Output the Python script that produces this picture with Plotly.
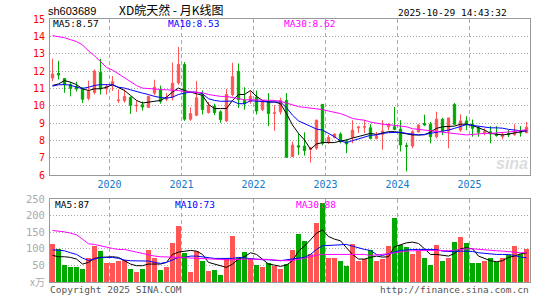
import plotly.graph_objects as go
import pandas as pd

# ---------------- data ----------------
months = pd.period_range("2019-03", "2025-10", freq="M").strftime("%Y-%m").tolist()

open_ = [11.60, 11.86, 11.57, 11.22, 11.12, 11.01, 10.43, 10.77, 11.92, 10.97,
         11.14, 10.30, 10.29, 10.48, 10.00, 10.06, 9.91, 10.73, 10.92, 10.38,
         10.46, 11.32, 12.38, 9.23, 9.46, 10.63, 9.61, 9.97, 9.65, 9.13,
         10.65, 11.98, 10.31, 10.25, 10.50, 9.78, 10.27, 9.57, 9.65, 10.31,
         7.08, 7.70, 7.68, 7.48, 7.56, 10.08, 7.88, 8.18, 8.37, 7.93,
         8.18, 8.73, 8.77, 8.73, 8.12, 8.35, 8.79, 8.79, 8.66, 7.70,
         7.68, 8.50, 8.98, 8.94, 8.22, 9.23, 8.54, 10.08, 8.60, 9.13,
         8.94, 8.73, 8.47, 8.50, 8.37, 8.22, 8.40, 8.33, 8.50, 8.45]
high = [12.71, 12.59, 11.60, 11.36, 11.39, 11.07, 11.45, 12.10, 12.71, 11.26,
        11.71, 10.95, 10.95, 10.54, 10.31, 10.25, 10.60, 11.50, 11.16, 10.74,
        12.50, 13.39, 12.52, 9.90, 11.43, 10.88, 10.22, 10.12, 9.74, 10.97,
        12.48, 12.44, 11.07, 10.84, 10.88, 10.31, 10.73, 10.03, 10.46, 10.73,
        7.93, 8.41, 8.47, 7.62, 9.20, 10.08, 8.31, 8.41, 8.47, 8.07,
        9.17, 8.85, 9.17, 8.94, 8.50, 9.17, 9.00, 9.93, 9.17, 7.88,
        8.60, 8.94, 9.49, 9.07, 9.65, 9.30, 9.30, 10.16, 9.51, 9.40,
        9.21, 8.83, 8.70, 8.83, 8.83, 8.45, 8.60, 8.94, 8.83, 9.07]
low = [11.41, 11.52, 10.75, 10.54, 10.82, 10.16, 10.31, 10.65, 10.65, 10.65,
       10.85, 10.16, 10.18, 9.53, 9.65, 9.72, 9.88, 10.60, 10.12, 10.27,
       10.31, 11.21, 9.13, 9.13, 9.40, 9.50, 9.55, 9.46, 9.02, 9.07,
       10.54, 9.88, 9.78, 10.12, 9.50, 9.70, 8.83, 8.56, 9.50, 7.00,
       7.04, 7.17, 7.13, 6.73, 7.46, 7.72, 7.80, 8.12, 7.84, 7.27,
       7.84, 8.43, 8.43, 8.06, 8.06, 7.46, 8.60, 8.60, 7.37, 6.22,
       7.55, 8.45, 8.83, 7.84, 8.12, 8.31, 7.55, 8.89, 8.50, 8.60,
       8.22, 8.22, 8.30, 7.84, 8.22, 8.07, 8.20, 8.28, 8.22, 8.41]
close = [11.83, 11.77, 11.22, 11.01, 10.96, 10.38, 10.84, 12.00, 10.97, 11.12,
         11.39, 10.33, 10.54, 10.03, 10.03, 9.93, 10.54, 11.07, 10.25, 10.48,
         11.30, 12.38, 9.23, 9.55, 10.46, 9.78, 10.03, 9.61, 9.21, 10.65,
         11.68, 10.35, 10.12, 10.54, 9.70, 10.23, 9.55, 9.59, 10.31, 7.04,
         7.74, 7.62, 7.42, 7.56, 9.17, 7.84, 8.18, 8.37, 7.93, 7.80,
         8.60, 8.77, 8.79, 8.12, 8.26, 8.54, 8.92, 8.64, 7.74, 7.66,
         8.50, 8.89, 8.89, 8.22, 9.23, 8.54, 9.30, 8.94, 9.13, 8.89,
         8.70, 8.47, 8.50, 8.37, 8.28, 8.33, 8.33, 8.45, 8.45, 8.77]

ma5 = [11.17, 11.26, 11.45, 11.36, 11.22, 10.98, 10.88, 10.98, 10.98, 11.07,
       11.22, 11.07, 10.88, 10.60, 10.31, 10.16, 10.22, 10.26, 10.31, 10.50,
       10.79, 11.02, 10.88, 10.79, 10.69, 10.60, 10.08, 9.84, 9.84, 9.84,
       10.31, 10.65, 10.65, 10.88, 10.54, 10.31, 10.22, 10.22, 10.12, 9.55,
       8.89, 8.41, 8.03, 7.50, 7.80, 7.88, 7.88, 7.88, 7.97, 8.03,
       8.14, 8.22, 8.32, 8.41, 8.35, 8.45, 8.51, 8.51, 8.45, 8.37,
       8.32, 8.32, 8.33, 8.49, 8.70, 8.79, 8.79, 8.83, 8.94, 8.94,
       8.87, 8.75, 8.60, 8.41, 8.35, 8.32, 8.37, 8.45, 8.51, 8.57]
ma10 = [11.13, 11.21, 11.22, 11.19, 11.07, 11.00, 11.07, 11.17, 11.22, 11.22,
        11.21, 11.07, 11.02, 10.92, 10.81, 10.73, 10.65, 10.54, 10.48, 10.44,
        10.50, 10.65, 10.73, 10.79, 10.79, 10.69, 10.41, 10.31, 10.26, 10.26,
        10.27, 10.12, 10.12, 10.29, 10.26, 10.26, 10.22, 10.22, 10.22, 9.89,
        9.46, 9.13, 8.98, 8.79, 8.66, 8.60, 8.41, 8.22, 7.97, 7.88,
        7.99, 8.09, 8.18, 8.30, 8.32, 8.41, 8.45, 8.47, 8.47, 8.41,
        8.35, 8.32, 8.35, 8.41, 8.47, 8.52, 8.60, 8.70, 8.83, 8.92,
        8.87, 8.83, 8.75, 8.73, 8.73, 8.71, 8.64, 8.60, 8.56, 8.53]
ma30 = [14.04, 14.00, 13.92, 13.81, 13.70, 13.51, 13.16, 12.88, 12.56, 12.21,
        12.06, 11.83, 11.64, 11.36, 11.17, 11.02, 10.98, 10.96, 10.94, 10.92,
        10.92, 10.88, 10.82, 10.81, 10.79, 10.75, 10.65, 10.60, 10.54, 10.54,
        10.46, 10.41, 10.35, 10.35, 10.35, 10.31, 10.31, 10.31, 10.26, 10.16,
        10.03, 9.95, 9.91, 9.87, 9.84, 9.78, 9.70, 9.63, 9.55, 9.42,
        9.27, 9.21, 9.17, 9.06, 8.98, 8.94, 8.91, 8.87, 8.83, 8.79,
        8.68, 8.64, 8.60, 8.54, 8.51, 8.45, 8.41, 8.41, 8.33, 8.32,
        8.35, 8.39, 8.41, 8.41, 8.43, 8.45, 8.49, 8.52, 8.58, 8.62]

volume = [115, 100, 50, 44, 44, 38, 73, 110, 94, 56,
          56, 62, 65, 38, 29, 38, 97, 71, 35, 44,
          118, 168, 88, 29, 94, 62, 32, 35, 21, 73,
          138, 73, 91, 71, 50, 44, 56, 47, 38, 53,
          97, 144, 123, 85, 179, 238, 73, 73, 62, 47,
          115, 62, 68, 97, 62, 68, 109, 194, 111, 106,
          83, 94, 73, 50, 112, 62, 71, 121, 135, 118,
          56, 56, 62, 71, 59, 71, 82, 109, 85, 100]
vol_ma5 = [80, 76, 76, 74, 69, 54, 59, 71, 74, 76,
           76, 74, 64, 54, 49, 49, 54, 54, 54, 59,
           83, 90, 93, 95, 93, 83, 59, 54, 47, 44,
           54, 69, 76, 88, 83, 69, 54, 51, 47, 51,
           64, 93, 108, 127, 147, 157, 137, 129, 124, 103,
           83, 69, 69, 74, 78, 75, 76, 106, 113, 118,
           120, 116, 100, 83, 83, 81, 78, 86, 100, 103,
           100, 78, 71, 64, 61, 64, 74, 78, 85, 87]
vol_ma10 = [97, 96, 94, 88, 83, 72, 65, 69, 74, 74,
            74, 71, 66, 64, 64, 64, 63, 59, 56, 59,
            67, 74, 74, 78, 78, 75, 74, 71, 71, 71,
            71, 74, 72, 69, 67, 67, 67, 66, 64, 67,
            70, 72, 74, 83, 98, 109, 110, 111, 113, 113,
            108, 102, 98, 95, 83, 80, 84, 90, 95, 97,
            98, 98, 98, 98, 98, 93, 91, 91, 93, 93,
            92, 88, 86, 84, 83, 83, 83, 80, 75, 73]
vol_ma30 = [155, 154, 151, 147, 142, 129, 115, 113, 108, 105,
            101, 98, 98, 95, 90, 86, 81, 78, 76, 76,
            76, 74, 73, 72, 70, 69, 69, 67, 67, 67,
            67, 69, 69, 69, 69, 69, 68, 66, 64, 64,
            65, 67, 71, 76, 81, 83, 83, 83, 83, 83,
            83, 83, 83, 80, 81, 83, 85, 88, 91, 93,
            94, 95, 95, 95, 95, 94, 94, 96, 99, 100,
            100, 98, 96, 95, 94, 93, 91, 90, 88, 88]

price_ticks = [6, 7, 8, 9, 10, 11, 12, 13, 14, 15]
vol_ticks = [50, 100, 150, 200, 250]

# ---------------- styling ----------------
MONO = "DejaVu Sans Mono"
RED = "#ff5555"
GREEN = "#00a800"
GRID = "#aaaaaa"
FRAME = "#999999"

idx = list(range(len(months)))
year_pos = [i - 0.5 for i, m in enumerate(months) if m.endswith("-01")]
year_txt = [m[:4] for m in months if m.endswith("-01")]
vol_colors = [RED if c >= o else GREEN for o, c in zip(open_, close)]

W, H = 545, 300
L, R, T, B = 50, 15, 19, 15
PW, PH = W - L - R, H - T - B


def px(x):
    return (x - L) / PW


def py(y):
    return (H - B - y) / PH


fig = go.Figure()
fig.add_trace(go.Candlestick(
    x=idx, open=open_, high=high, low=low, close=close,
    increasing=dict(line=dict(color=RED, width=1), fillcolor=RED),
    decreasing=dict(line=dict(color=GREEN, width=1), fillcolor=GREEN),
    whiskerwidth=0, hoverinfo="skip", showlegend=False,
    xaxis="x", yaxis="y"))
for ser, col in ((ma5, "#000000"), (ma10, "#0000ff"), (ma30, "#ff00ff")):
    fig.add_trace(go.Scatter(x=idx, y=ser, mode="lines",
                             line=dict(color=col, width=1),
                             hoverinfo="skip", showlegend=False,
                             xaxis="x", yaxis="y"))

fig.add_trace(go.Bar(x=idx, y=volume, marker=dict(color=vol_colors, line=dict(width=0)),
                     width=0.84, hoverinfo="skip", showlegend=False,
                     xaxis="x2", yaxis="y2"))
for ser, col in ((vol_ma5, "#000000"), (vol_ma10, "#0000ff"), (vol_ma30, "#ff00ff")):
    fig.add_trace(go.Scatter(x=idx, y=ser, mode="lines",
                             line=dict(color=col, width=1),
                             hoverinfo="skip", showlegend=False,
                             xaxis="x2", yaxis="y2"))

xr = [-5 / 12, len(months) - 1 + 7 / 12]
common_x = dict(range=xr, tickmode="array", tickvals=year_pos, showgrid=True,
                gridcolor=GRID, gridwidth=1, griddash="4px,3px", ticks="",
                showline=True, mirror=True, linecolor=FRAME, linewidth=1,
                zeroline=False, fixedrange=True)

main_bottom = py(177)
vol_top = py(201)

fig.update_layout(
    width=W, height=H, margin=dict(l=L, r=R, t=T, b=B),
    paper_bgcolor="white", plot_bgcolor="white",
    boxgap=0.45, bargap=0,
    font=dict(family=MONO, size=10),
    xaxis=dict(common_x, domain=[0, 1], anchor="y", ticktext=year_txt,
               showticklabels=True, rangeslider=dict(visible=False),
               tickfont=dict(family=MONO, size=10, color="#1478c8")),
    xaxis2=dict(common_x, domain=[0, 1], anchor="y2", matches="x",
                showticklabels=False),
    yaxis=dict(domain=[main_bottom, 1], range=[6, 15], tickmode="array",
               tickvals=price_ticks, ticktext=[str(v) for v in price_ticks],
               showgrid=True, gridcolor=GRID, griddash="1px,2px", ticks="",
               showline=True, mirror=True, linecolor=FRAME, linewidth=1,
               zeroline=False, fixedrange=True, ticklabelstandoff=2,
               tickfont=dict(family=MONO, size=10, color="#ff0000")),
    yaxis2=dict(domain=[0, vol_top], range=[0, 250], tickmode="array",
                tickvals=vol_ticks, ticktext=[str(v) for v in vol_ticks],
                showgrid=True, gridcolor=GRID, griddash="1px,2px", ticks="",
                showline=True, mirror=True, linecolor=FRAME, linewidth=1,
                zeroline=False, fixedrange=True, ticklabelstandoff=2,
                tickfont=dict(family=MONO, size=10.5, color="#aaaaaa")),
)


def ann(text, x, y, xanchor="left", color="#000", size=9.5, family=MONO, **kw):
    fig.add_annotation(text=text, x=px(x), y=py(y), xref="paper", yref="paper",
                       xanchor=xanchor, yanchor="middle", showarrow=False,
                       borderpad=0,
                       font=dict(color=color, size=size, family=family), **kw)


ann("sh603689", 47, 11, size=11, family="Liberation Sans")
ann("XD皖天然 - 月K线图", 171, 9, xanchor="center", size=12,
    family="Noto Sans CJK SC")
ann("2025-10-29 14:43:32", 508, 12, xanchor="right", size=9.5)

ann("MA5:%.2f" % ma5[-1], 52, 24, color="#000000")
ann("MA10:%.2f" % ma10[-1], 167, 24, color="#0000ff")
ann("MA30:%.2f" % ma30[-1], 283, 24, color="#ff00ff")

ann("MA5:%d" % vol_ma5[-1], 54, 207, color="#000000")
ann("MA10:%d" % vol_ma10[-1], 174, 207, color="#0000ff")
ann("MA30:%d" % vol_ma30[-1], 295, 207, color="#ff00ff")

ann("x万", 46, 284, xanchor="right", color="#aaaaaa", size=10,
    family="Noto Sans CJK SC")
ann("Copyright 2025 SINA.COM", 49, 293, color="#555555", size=9.5)
ann("http://finance.sina.com.cn", 530, 293, xanchor="right", color="#555555", size=9.5)
ann("<b><i>sina</i></b>", 512, 165, xanchor="center", color="#dddddd", size=16,
    family="Liberation Sans")

fig.write_html("out.html")
